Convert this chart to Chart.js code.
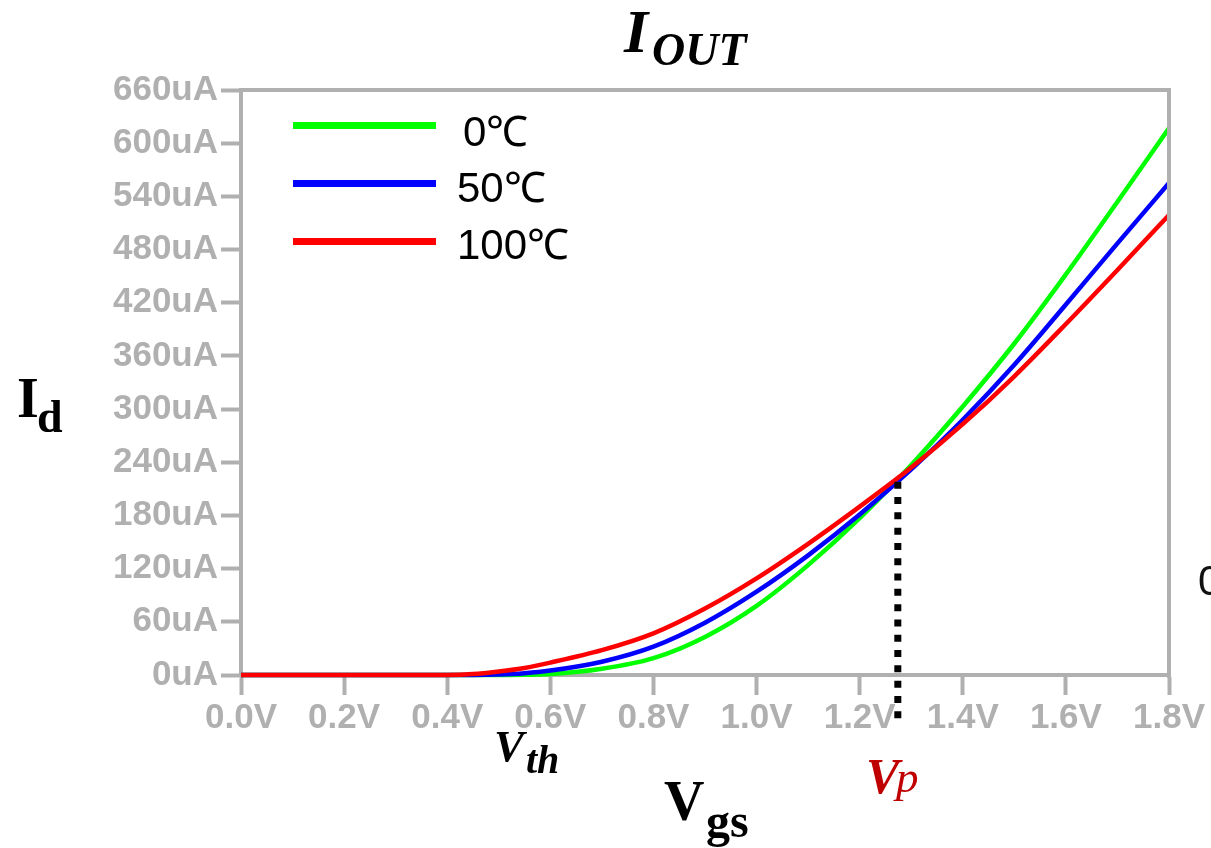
<!DOCTYPE html>
<html>
<head>
<meta charset="utf-8">
<title>I_OUT vs Vgs</title>
<script src="https://cdn.jsdelivr.net/npm/chart.js@4.4.0/dist/chart.umd.min.js"></script>
<style>
  html, body { margin: 0; padding: 0; background: #fff; }
  #wrap { position: relative; width: 1211px; height: 848px; overflow: hidden; }
  #chart { position: absolute; left: 0; top: 0; }
  .txt { position: absolute; line-height: 1; white-space: nowrap; }
  .serif { font-family: "Liberation Serif", "Times New Roman", serif; }
  .sans { font-family: "Liberation Sans", Arial, sans-serif; }
  .legend-line { position: absolute; height: 7px; }
</style>
</head>
<body>
<div id="wrap">
  <canvas id="chart" width="1211" height="848"></canvas>

  <!-- title I_OUT -->
  <span class="txt serif" style="left:624px; top:0px; font-size:62px; font-weight:bold; font-style:italic;">I</span>
  <span class="txt serif" style="left:652px; top:27px; font-size:46px; font-weight:bold; font-style:italic;">OUT</span>

  <!-- y label I_d -->
  <span class="txt serif" style="left:17px; top:370px; font-size:56px; font-weight:bold;">I</span>
  <span class="txt serif" style="left:37px; top:394px; font-size:46px; font-weight:bold;">d</span>

  <!-- x label V_gs -->
  <span class="txt serif" style="left:664px; top:773px; font-size:56px; font-weight:bold;">V</span>
  <span class="txt serif" style="left:706px; top:797px; font-size:48px; font-weight:bold;">gs</span>

  <!-- V_th marker -->
  <span class="txt serif" style="left:494px; top:724px; font-size:45px; font-weight:bold; font-style:italic;">V</span>
  <span class="txt serif" style="left:526px; top:740px; font-size:40px; font-weight:bold; font-style:italic;">th</span>

  <!-- Vp marker -->
  <span class="txt serif" style="left:866px; top:751px; font-size:50px; font-weight:bold; font-style:italic; color:#c00000;">V</span>
  <span class="txt serif" style="left:896px; top:755px; font-size:45px; font-style:italic; color:#c00000;">p</span>

  <!-- stray glyph at right edge -->
  <span class="txt sans" style="left:1198px; top:560px; font-size:42px; color:#111;">0</span>

  <div id="chartLegend"></div>
</div>

<script>
// Id-Vgs sweep at three temperatures (values in uA)
const vgs = [0, 0.1, 0.2, 0.3, 0.4, 0.45, 0.5, 0.55, 0.6, 0.7, 0.8, 0.9, 1.0, 1.1, 1.2, 1.3, 1.4, 1.5, 1.6, 1.7, 1.8];
const id0C   = [0, 0, 0, 0, 0, 0, 0, 0.3, 1, 7, 19, 43, 78, 124, 177, 237, 303, 374, 452, 534, 617];
const id50C  = [0, 0, 0, 0, 0, 0, 0.5, 2, 5, 15, 32, 59, 94, 135, 181, 232, 288, 350, 418, 487, 555];
const id100C = [0, 0, 0, 0, 0, 1, 4, 8, 14, 28, 47, 75, 109, 148, 190, 234, 283, 337, 396, 457, 519];

const seriesLabels = ['0℃', '50℃', '100℃'];
const seriesColors = ['#00ff00', '#0000ff', '#ff0000'];
const seriesData = [id0C, id50C, id100C];

// crossing point (zero temperature coefficient)
const vpVolts = 1.274;
const vpCurrent = 218;

const yTickStep = 60;
const yMax = 660;
const xTickStep = 0.2;
const xMax = 1.8;

const GREY = '#b0b0b0';

document.addEventListener('DOMContentLoaded', function() {
  buildLegend();
  drawChart();
});

function buildLegend() {
  const legend = document.getElementById('chartLegend');
  const lineTops = [122, 180, 238];
  const textTops = [111, 167, 224];
  legend.innerHTML = seriesLabels.map((label, i) => `
    <div class="legend-line" style="left:293px; top:${lineTops[i]}px; width:143px; background:${seriesColors[i]};"></div>
    <span class="txt sans" style="left:${i === 0 ? 463 : 457}px; top:${textTops[i]}px; font-size:42px; color:#000;">${label}</span>
  `).join('');
}

// draws the box top/right edges and the dotted Vp line
const framePlugin = {
  id: 'frame',
  afterDatasetsDraw(chart) {
    const { ctx, chartArea, scales } = chart;
    ctx.save();
    ctx.strokeStyle = GREY;
    ctx.lineWidth = 4;
    ctx.beginPath();
    ctx.moveTo(chartArea.left, chartArea.top);
    ctx.lineTo(chartArea.right, chartArea.top);
    ctx.lineTo(chartArea.right, chartArea.bottom + 3);
    ctx.stroke();

    const x = scales.x.getPixelForValue(vpVolts);
    const yTop = scales.y.getPixelForValue(vpCurrent);
    ctx.strokeStyle = '#000';
    ctx.lineWidth = 7;
    ctx.setLineDash([7, 8.3]);
    ctx.beginPath();
    ctx.moveTo(x, yTop);
    ctx.lineTo(x, chartArea.bottom + 44);
    ctx.stroke();
    ctx.restore();
  }
};

function drawChart() {
  const ctx = document.getElementById('chart');
  const order = [2, 1, 0];

  new Chart(ctx, {
    type: 'line',
    data: {
      datasets: seriesData.map((values, i) => ({
        label: seriesLabels[i],
        data: vgs.map((v, j) => ({ x: v, y: values[j] })),
        borderColor: seriesColors[i],
        backgroundColor: seriesColors[i],
        borderWidth: 4.5,
        pointRadius: 0,
        cubicInterpolationMode: 'monotone',
        clip: 10,
        order: order[i],
      }))
    },
    options: {
      responsive: false,
      animation: false,
      layout: { padding: { left: 0, top: 90, right: 42, bottom: 0 } },
      plugins: {
        legend: { display: false },
        tooltip: { enabled: false },
      },
      scales: {
        x: {
          type: 'linear',
          min: 0,
          max: xMax,
          afterFit: function(scale) { scale.height = 173; },
          border: { color: GREY, width: 4 },
          grid: { drawOnChartArea: false, drawTicks: true, tickLength: 20, tickWidth: 4, tickColor: GREY },
          ticks: {
            stepSize: xTickStep,
            autoSkip: false,
            maxRotation: 0,
            padding: 2,
            color: GREY,
            font: { family: 'Liberation Sans, Arial, sans-serif', size: 35, weight: 'bold' },
            callback: function(value) { return Number(value).toFixed(1) + 'V'; }
          }
        },
        y: {
          min: 0,
          max: yMax,
          afterFit: function(scale) { scale.width = 241; },
          border: { color: GREY, width: 4 },
          grid: { drawOnChartArea: false, drawTicks: true, tickLength: 20, tickWidth: 4, tickColor: GREY },
          ticks: {
            stepSize: yTickStep,
            autoSkip: false,
            padding: 3,
            color: GREY,
            font: { family: 'Liberation Sans, Arial, sans-serif', size: 35, weight: 'bold' },
            callback: function(value) { return value + 'uA'; }
          }
        }
      }
    },
    plugins: [framePlugin]
  });
}
</script>
</body>
</html>
